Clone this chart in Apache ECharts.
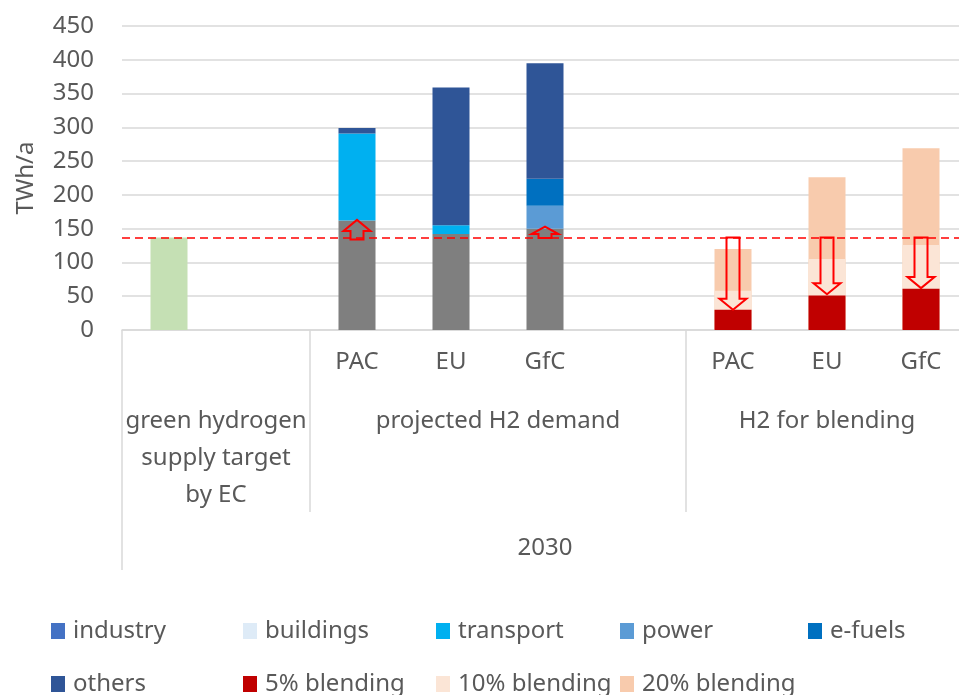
<!DOCTYPE html>
<html>
<head>
<meta charset="utf-8">
<script src="https://cdn.jsdelivr.net/npm/echarts@6/dist/echarts.min.js"></script>
<style>
  html, body { margin: 0; padding: 0; background: #fff; overflow: hidden; }
  /* plot area runs slightly past the right edge of the window, as in the source */
  #chart { width: 968px; height: 695px; }
</style>
</head>
<body>
<div id="chart"></div>
<script>
// slots along the x axis (two empty spacer slots between groups)
const slots = ['target', 'gap-a', 'dem-PAC', 'dem-EU', 'dem-GfC', 'gap-b', 'bl-PAC', 'bl-EU', 'bl-GfC'];
const tickLabels = ['', '', 'PAC', 'EU', 'GfC', '', 'PAC', 'EU', 'GfC'];
const groupNames = ['green hydrogen\nsupply target\nby EC', 'projected H2 demand', 'H2 for blending'];
const groupCenters = [1, 4, 7.5];
const groupBounds = [0, 2, 6];
const yearLabel = '2030';
const yTicks = [0, 50, 100, 150, 200, 250, 300, 350, 400, 450];

// TWh/a
const greenTarget = [137, null, null, null, null, null, null, null, null];
const industry    = [null, null, 162, 142, 150, null, null, null, null];
const buildings   = [null, null, 0, 0, 0, null, null, null, null];
const transport   = [null, null, 129, 13, 0, null, null, null, null];
const power       = [null, null, 0, 0, 34, null, null, null, null];
const eFuels      = [null, null, 0, 0, 40, null, null, null, null];
const others      = [null, null, 8, 204, 171, null, null, null, null];
// blending volumes (overlaid, not stacked)
const blend5  = [null, null, null, null, null, null, 30, 51, 61];
const blend10 = [null, null, null, null, null, null, 58, 105, 126];
const blend20 = [null, null, null, null, null, null, 120, 226, 269];

const targetLine = 137;
// arrows: slot index, from, to
const arrowSlot = [2, 4, 6, 7, 8];
const arrowFrom = [134, 136, 137, 137, 137];
const arrowTo   = [163, 153, 30, 53, 62];

const grey = '#595959';
const font = 'Noto Sans';

const legendItems = [
  { name: 'industry', color: '#4472C4', left: 51, top: 619 },
  { name: 'buildings', color: '#DEEBF7', left: 243, top: 619 },
  { name: 'transport', color: '#00B0F0', left: 436, top: 619 },
  { name: 'power', color: '#5B9BD5', left: 620, top: 619 },
  { name: 'e-fuels', color: '#0070C0', left: 808, top: 619 },
  { name: 'others', color: '#2F5597', left: 51, top: 672 },
  { name: '5% blending', color: '#C00000', left: 243, top: 672 },
  { name: '10% blending', color: '#FBE5D6', left: 436, top: 672 },
  { name: '20% blending', color: '#F8CBAD', left: 620, top: 672 }
];

const chart = echarts.init(document.getElementById('chart'), null, { renderer: 'canvas' });

function bar(name, data, color, stack){
  return { name, type: 'bar', stack, data, barWidth: 37, barGap: '-100%',
    itemStyle: { color }, emphasis: { disabled: true } };
}

function renderArrow(params, api){
  const a = api.coord([api.value(0), api.value(1)]);
  const b = api.coord([api.value(0), api.value(2)]);
  const cx = a[0];
  const dir = b[1] < a[1] ? -1 : 1;
  const len = Math.abs(b[1] - a[1]);
  const head = Math.min(11, len * 0.65);
  const sw = 6.5, hw = 13.5;
  const yh = b[1] - dir * head;
  const pts = [[cx - sw, a[1]], [cx - sw, yh], [cx - hw, yh], [cx, b[1]], [cx + hw, yh], [cx + sw, yh], [cx + sw, a[1]]];
  return { type: 'polygon', shape: { points: pts }, style: { fill: 'none', stroke: '#FF0000', lineWidth: 2 } };
}

const option = {
  animation: false,
  textStyle: { fontFamily: font },
  grid: { left: 122, right: 0, top: 26, bottom: 365 },
  legend: legendItems.map(it => ({
    data: [{ name: it.name, itemStyle: { color: it.color } }],
    left: it.left, top: it.top, padding: 0,
    itemWidth: 14, itemHeight: 16, icon: 'rect', selectedMode: false,
    textStyle: { fontSize: 24, color: grey, fontFamily: font, padding: [0, 0, 0, 3] }
  })),
  xAxis: [
    {
      type: 'category', data: slots, position: 'bottom',
      axisLine: { lineStyle: { color: '#D9D9D9', width: 1.5 } },
      axisTick: { show: false },
      axisLabel: { color: grey, fontSize: 24, margin: 20, interval: 0,
        formatter: (v, i) => tickLabels[i] }
    },
    {
      type: 'value', min: 0, max: 9, position: 'bottom', offset: 0,
      axisLine: { show: false }, splitLine: { show: false },
      axisTick: { show: true, customValues: groupBounds, length: 182, lineStyle: { color: '#D9D9D9', width: 1.5 } },
      axisLabel: { customValues: groupCenters, color: grey, fontSize: 24, lineHeight: 37, margin: 73,
        formatter: v => groupNames[groupCenters.indexOf(v)] || '' }
    },
    {
      type: 'value', min: 0, max: 9, position: 'bottom', offset: 0,
      axisLine: { show: false }, splitLine: { show: false },
      axisTick: { show: true, customValues: [0], length: 240, lineStyle: { color: '#D9D9D9', width: 1.5 } },
      axisLabel: { customValues: [4.5], color: grey, fontSize: 24, margin: 206,
        formatter: () => yearLabel }
    }
  ],
  yAxis: {
    type: 'value', min: yTicks[0], max: yTicks[yTicks.length - 1], interval: 50,
    name: 'TWh/a', nameLocation: 'middle', nameGap: 84,
    nameTextStyle: { fontSize: 24, color: grey },
    axisLine: { show: false }, axisTick: { show: false },
    axisLabel: { color: grey, fontSize: 24, margin: 28 },
    splitLine: { lineStyle: { color: '#D9D9D9', width: 1.5 } }
  },
  series: [
    Object.assign(bar('green target', greenTarget, '#C5E0B4', 'demand'), {
      markLine: {
        silent: true, symbol: 'none', label: { show: false },
        lineStyle: { color: '#FF0000', type: [8, 5], width: 1.5 },
        data: [{ yAxis: targetLine }]
      }
    }),
    bar('industry', industry, '#7F7F7F', 'demand'),
    bar('buildings', buildings, '#DEEBF7', 'demand'),
    bar('transport', transport, '#00B0F0', 'demand'),
    bar('power', power, '#5B9BD5', 'demand'),
    bar('e-fuels', eFuels, '#0070C0', 'demand'),
    bar('others', others, '#2F5597', 'demand'),
    bar('20% blending', blend20, '#F8CBAD', 'b20'),
    bar('10% blending', blend10, '#FBE5D6', 'b10'),
    bar('5% blending', blend5, '#C00000', 'b5'),
    {
      type: 'custom', name: 'arrows', z: 5, silent: true,
      renderItem: renderArrow,
      encode: { x: 0, y: [1, 2] },
      data: arrowSlot.map((s, i) => [s, arrowFrom[i], arrowTo[i]])
    }
  ]
};

chart.setOption(option);
</script>
</body>
</html>
